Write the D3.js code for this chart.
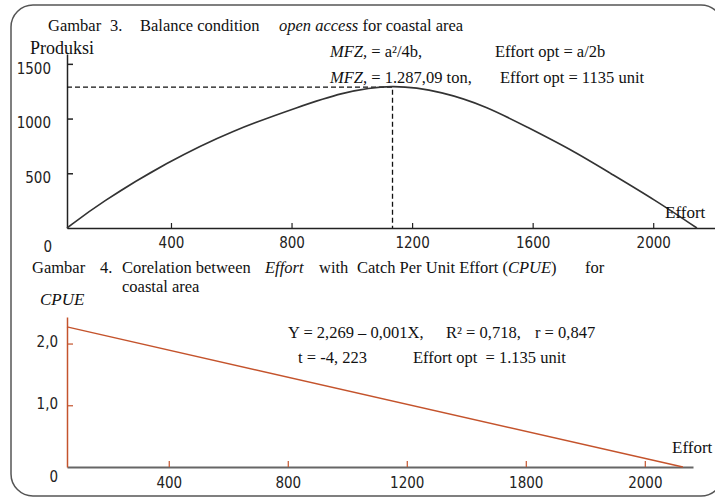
<!DOCTYPE html>
<html>
<head>
<meta charset="utf-8">
<script src="https://cdn.jsdelivr.net/npm/d3@7"></script>
<style>
  body { margin: 0; background: #fff; }
  text { white-space: pre; }
  .serif { font-family: "Liberation Serif", "Times New Roman", serif; fill: #111; }
</style>
</head>
<body>
<script>
// ------------------------------------------------ Data ------------------------------------------------ //
// Gambar 3: production curve (effort vs produksi)
var effort1 = [55, 164, 387, 606, 828, 961, 1135, 1302, 1448, 1581, 1724, 1856, 2006, 2145];
var produksi = [0, 228, 603, 896, 1110, 1235, 1318, 1245, 1110, 923, 722, 503, 256, 0];
var msyEffort = 1135, msyProd = 1287;
var xTicks1 = [400, 800, 1200, 1600, 2000];
var yTicks1 = [500, 1000, 1500];

// Gambar 4: CPUE regression line
var effort2 = [58, 2128];
var cpue = [2.269, 0];
var xTicks2 = [400, 800, 1200, 1600, 2000];
var xLabels2 = ["400", "800", "1200", "1800", "2000"];
var yTicks2 = [1, 2];
var yLabels2 = ["1,0", "2,0"];

var red = "#c4532c";
var tickFont = "'DejaVu Sans Condensed', 'DejaVu Sans', sans-serif";

// --------------------------------------------- Init SVG ---------------------------------------------- //
var width = 715, height = 498;
var svg = d3.select("body").append("svg")
    .attr("width", width)
    .attr("height", height);

// rounded frame
svg.append("rect")
    .attr("x", 11).attr("y", 5)
    .attr("width", 712).attr("height", 491)
    .attr("rx", 22).attr("ry", 22)
    .attr("fill", "none")
    .attr("stroke", "#555")
    .attr("stroke-width", 1.5);

function styleTicks(a) {
    a.selectAll(".tick text")
        .attr("font-family", tickFont)
        .attr("font-size", 15)
        .attr("fill", "#222");
}

// small helper for runs of serif text
function serifText(x, y, size, parts) {
    var t = svg.append("text").attr("class", "serif")
        .attr("x", x).attr("y", y).attr("font-size", size);
    parts.forEach(p => {
        var s = t.append("tspan").text(p.t);
        if (p.i) s.attr("font-style", "italic");
        if (p.x != null) s.attr("x", p.x);
    });
    return t;
}

// --------------------------------------------- Chart 1 ----------------------------------------------- //
var x1 = d3.scaleLinear().domain([55, 2205]).range([67, 715]);
var y1 = d3.scaleLinear().domain([0, 1590]).range([228, 54]);

var g1 = svg.append("g");

g1.append("g")
    .attr("transform", "translate(0," + y1(0) + ")")
    .call(d3.axisBottom(x1).tickValues(xTicks1).tickFormat(d3.format("d"))
        .tickSizeInner(-5).tickSizeOuter(0).tickPadding(9))
    .call(a => a.select(".domain").attr("stroke", "#222").attr("stroke-width", 1.5))
    .call(a => a.selectAll(".tick line").attr("stroke", "#222").attr("stroke-width", 1.2))
    .call(styleTicks);

g1.append("g")
    .attr("transform", "translate(" + x1(55) + ",0)")
    .call(d3.axisLeft(y1).tickValues(yTicks1).tickFormat(d3.format("d"))
        .tickSizeInner(-6).tickSizeOuter(0).tickPadding(16))
    .call(a => a.select(".domain").attr("stroke", "#222").attr("stroke-width", 1.5))
    .call(a => a.selectAll(".tick line").attr("stroke", "#222").attr("stroke-width", 1.5))
    .call(styleTicks)
    .call(a => a.selectAll(".tick text").attr("dy", "0.62em"));

g1.append("text")
    .attr("x", x1(55) - 15).attr("y", y1(0) + 24)
    .attr("text-anchor", "end")
    .attr("font-family", tickFont).attr("font-size", 15).attr("fill", "#222")
    .text("0");

// dashed guides to the maximum
g1.append("path")
    .attr("d", "M" + x1(55) + "," + y1(msyProd) + "H" + x1(msyEffort) + "V" + y1(0))
    .attr("fill", "none")
    .attr("stroke", "#111")
    .attr("stroke-width", 1.3)
    .attr("stroke-dasharray", "5,3");

var line1 = d3.line()
    .x((d, i) => x1(effort1[i]))
    .y(d => y1(d))
    .curve(d3.curveBasis);
g1.append("path")
    .datum(produksi)
    .attr("d", line1)
    .attr("fill", "none")
    .attr("stroke", "#333")
    .attr("stroke-width", 1.6);

// texts chart 1
serifText(48, 31, 16.5, [
    {t: "Gambar"}, {t: "3.", x: 110}, {t: "Balance condition", x: 140},
    {t: "open access", i: true, x: 279}, {t: " for coastal area"}]);
serifText(30, 54, 18, [{t: "Produksi"}]);

serifText(330, 57, 16.5, [{t: "MFZ,", i: true}, {t: " = a²/4b,"}, {t: "Effort opt = a/2b", x: 495}]);
serifText(330, 83, 16.5, [{t: "MFZ,", i: true}, {t: " = 1.287,09 ton,"}, {t: "Effort opt = 1135 unit", x: 500}]);

serifText(665, 218, 17, [{t: "Effort"}]);

// --------------------------------------------- Chart 2 ----------------------------------------------- //
var x2 = d3.scaleLinear().domain([58, 2162]).range([67, 693]);
var y2 = d3.scaleLinear().domain([0, 2.43]).range([467, 317]);

var g2 = svg.append("g");

g2.append("g")
    .attr("transform", "translate(0," + y2(0) + ")")
    .call(d3.axisBottom(x2).tickValues(xTicks2).tickFormat((d, i) => xLabels2[i])
        .tickSizeInner(-6).tickSizeOuter(0).tickPadding(10))
    .call(a => a.select(".domain").attr("stroke", "#666").attr("stroke-width", 2))
    .call(a => a.selectAll(".tick line").attr("stroke", red).attr("stroke-width", 1.2))
    .call(styleTicks);

g2.append("g")
    .attr("transform", "translate(" + x2(58) + ",0)")
    .call(d3.axisLeft(y2).tickValues(yTicks2).tickFormat((d, i) => yLabels2[i])
        .tickSizeInner(-6).tickSizeOuter(0).tickPadding(9))
    .call(a => a.select(".domain").attr("stroke", red).attr("stroke-width", 1.5))
    .call(a => a.selectAll(".tick line").attr("stroke", red).attr("stroke-width", 1.2))
    .call(styleTicks)
    .call(a => a.selectAll(".tick text").attr("dy", "0.2em"));

g2.append("text")
    .attr("x", x2(58) - 9).attr("y", y2(0) + 15)
    .attr("text-anchor", "end")
    .attr("font-family", tickFont).attr("font-size", 15).attr("fill", "#222")
    .text("0");

var line2 = d3.line()
    .x((d, i) => x2(effort2[i]))
    .y(d => y2(d));
g2.append("path")
    .datum(cpue)
    .attr("d", line2)
    .attr("fill", "none")
    .attr("stroke", red)
    .attr("stroke-width", 1.4);

// texts chart 2
serifText(32, 273, 16.5, [
    {t: "Gambar"}, {t: "4.", x: 100}, {t: "Corelation between ", x: 122},
    {t: "Effort", i: true, x: 265}, {t: "with", x: 319},
    {t: "Catch Per Unit Effort (", x: 357}, {t: "CPUE", i: true}, {t: ")"}, {t: "for", x: 585}]);
serifText(122, 292, 16.5, [{t: "coastal area"}]);

serifText(40, 305, 17, [{t: "CPUE", i: true}]);

serifText(288, 338, 16.5, [{t: "Y = 2,269 – 0,001X,"}, {t: "R² = 0,718,", x: 446}, {t: "r = 0,847", x: 535}]);
serifText(298, 363, 16.5, [{t: "t = -4, 223"}, {t: "Effort opt  = 1.135 unit", x: 413}]);

serifText(672, 453, 17, [{t: "Effort"}]);
</script>
</body>
</html>
